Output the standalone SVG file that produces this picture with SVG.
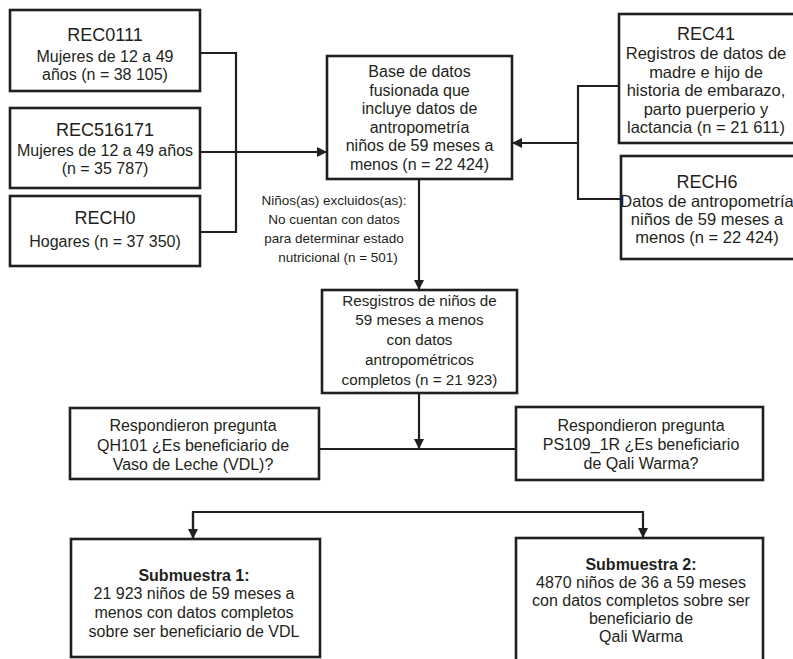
<svg xmlns="http://www.w3.org/2000/svg" width="793" height="659" viewBox="0 0 793 659">
<style>
.box{fill:#fff;stroke:#231f20;stroke-width:2.6}
.ln{fill:none;stroke:#231f20;stroke-width:2.2}
text{font-family:"Liberation Sans",Arial,sans-serif;fill:#231f20;text-anchor:middle}
.t{font-size:18px}
.s{font-size:16px}
.r{font-size:16.5px}
.m{font-size:15.2px}
.x{font-size:13.5px}
.b{font-weight:bold}
</style>
<defs>
<marker id="ah" viewBox="0 0 10 10" refX="10" refY="5" markerWidth="10" markerHeight="10" markerUnits="userSpaceOnUse" orient="auto">
<path d="M0,0 L10,5 L0,10 z" fill="#231f20"/>
</marker>
</defs>
<rect width="793" height="659" fill="#fff"/>
<g id="connectors">
<path class="ln" d="M200,53 H236 V232 H200"/>
<path class="ln" d="M200,152 H327" marker-end="url(#ah)"/>
<path class="ln" d="M619,86 H578 V199 H621"/>
<path class="ln" d="M578,143 H512" marker-end="url(#ah)"/>
<path class="ln" d="M419,179 V290" marker-end="url(#ah)"/>
<path class="ln" d="M419,393 V449" marker-end="url(#ah)"/>
<path class="ln" d="M319,449 H516"/>
<path class="ln" d="M193,539 V512 H643 V538" marker-end="url(#ah)"/>
<path class="ln" d="M193,512 V539" marker-end="url(#ah)"/>
</g>
<g id="rec0111">
<rect class="box" x="10" y="10" width="190" height="81"/>
<text class="t" x="105" y="41">REC0111</text>
<text class="s" x="105" y="62">Mujeres de 12 a 49</text>
<text class="s" x="105" y="80">años (n = 38 105)</text>
</g>
<g id="rec516171">
<rect class="box" x="10" y="108" width="190" height="80"/>
<text class="t" x="105" y="136">REC516171</text>
<text class="s" x="105" y="156">Mujeres de 12 a 49 años</text>
<text class="s" x="105" y="174">(n = 35 787)</text>
</g>
<g id="rech0">
<rect class="box" x="10" y="196" width="190" height="70"/>
<text class="t" x="105" y="224">RECH0</text>
<text class="s" x="105" y="247">Hogares (n = 37 350)</text>
</g>
<g id="base">
<rect class="box" x="327" y="56" width="185" height="123"/>
<text class="s" x="419.5" y="77">Base de datos</text>
<text class="s" x="419.5" y="95.6">fusionada que</text>
<text class="s" x="419.5" y="114.2">incluye datos de</text>
<text class="s" x="419.5" y="132.8">antropometría</text>
<text class="s" x="419.5" y="151.4">niños de 59 meses a</text>
<text class="s" x="419.5" y="170">menos (n = 22 424)</text>
</g>
<g id="rec41">
<rect class="box" x="619" y="14" width="178" height="129"/>
<text class="t" x="706" y="40">REC41</text>
<text class="r" x="706" y="59">Registros de datos de</text>
<text class="r" x="706" y="78">madre e hijo de</text>
<text class="r" x="706" y="96">historia de embarazo,</text>
<text class="r" x="706" y="115">parto puerperio y</text>
<text class="r" x="706" y="133">lactancia (n = 21 611)</text>
</g>
<g id="rech6">
<rect class="box" x="621" y="156" width="176" height="103"/>
<text class="t" x="707" y="188">RECH6</text>
<text class="r" x="707" y="207">Datos de antropometría</text>
<text class="r" x="707" y="225">niños de 59 meses a</text>
<text class="r" x="707" y="243">menos (n = 22 424)</text>
</g>
<g id="excluidos">
<text class="x" x="334" y="205">Niños(as) excluidos(as):</text>
<text class="x" x="334" y="224">No cuentan con datos</text>
<text class="x" x="334" y="243">para determinar estado</text>
<text class="x" x="338" y="262">nutricional (n = 501)</text>
</g>
<g id="registros">
<rect class="box" x="322" y="290" width="195" height="103"/>
<text class="m" x="419.5" y="306">Resgistros de niños de</text>
<text class="m" x="419.5" y="325">59 meses a menos</text>
<text class="m" x="419.5" y="345">con datos</text>
<text class="m" x="419.5" y="365">antropométricos</text>
<text class="m" x="419.5" y="385">completos (n = 21 923)</text>
</g>
<g id="qh101">
<rect class="box" x="70" y="408" width="249" height="71"/>
<text class="s" x="193" y="431">Respondieron pregunta</text>
<text class="s" x="193" y="451">QH101 ¿Es beneficiario de</text>
<text class="s" x="193" y="470">Vaso de Leche (VDL)?</text>
</g>
<g id="ps109">
<rect class="box" x="516" y="407" width="247" height="73"/>
<text class="s" x="641" y="431">Respondieron pregunta</text>
<text class="s" x="641" y="450">PS109_1R ¿Es beneficiario</text>
<text class="s" x="641" y="469">de Qali Warma?</text>
</g>
<g id="sub1">
<rect class="box" x="71" y="539" width="249" height="118"/>
<text class="s b" x="194" y="581">Submuestra 1:</text>
<text class="s" x="194" y="599">21 923 niños de 59 meses a</text>
<text class="s" x="194" y="618">menos con datos completos</text>
<text class="s" x="194" y="637">sobre ser beneficiario de VDL</text>
</g>
<g id="sub2">
<rect class="box" x="516" y="538" width="247" height="130"/>
<text class="s b" x="641" y="570">Submuestra 2:</text>
<text class="s" x="641" y="588">4870 niños de 36 a 59 meses</text>
<text class="s" x="641" y="606">con datos completos sobre ser</text>
<text class="s" x="641" y="624">beneficiario de</text>
<text class="s" x="641" y="642">Qali Warma</text>
</g>
</svg>
